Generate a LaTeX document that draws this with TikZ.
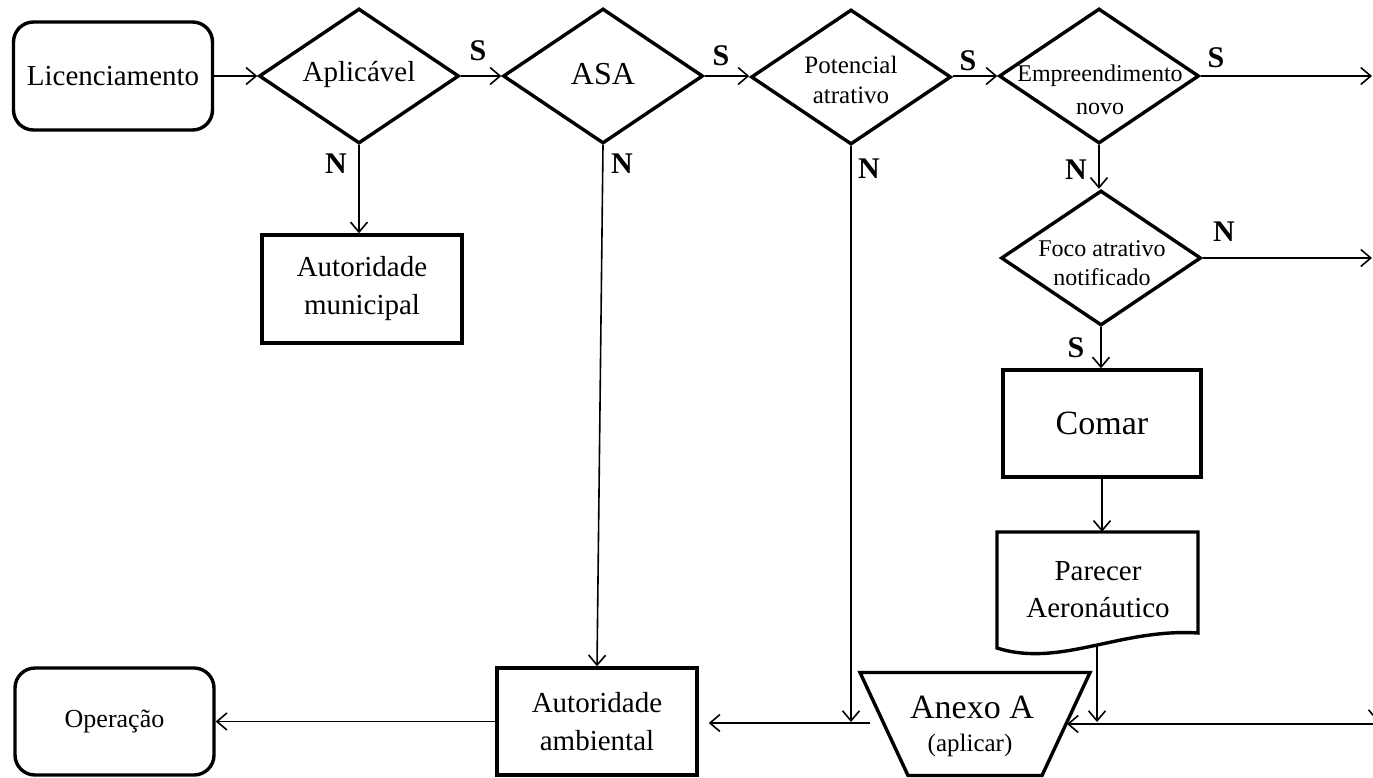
\documentclass[tikz,border=0pt]{standalone}
\usepackage{fontspec}
\setmainfont{Liberation Serif}
\usetikzlibrary{shapes.geometric,arrows.meta}
\begin{document}
\begin{tikzpicture}[x=1pt,y=-1pt,
  box/.style={draw, line width=3.4pt, inner sep=0pt, align=center},
  rbox/.style={box, rounded corners=20pt},
  dec/.style={draw, diamond, line width=3.4pt, inner sep=0pt, minimum width=200pt, minimum height=135pt},
  arr/.style={line width=1.6pt, -{Straight Barb[length=10pt,width=17pt,line width=1.6pt]}},
  lab/.style={font=\fontsize{30}{30}\selectfont\bfseries, inner sep=0pt},
  txt/.style={align=center, inner sep=0pt},
]
\useasboundingbox (0,0) rectangle (1373,777);

% top row
\node[rbox, minimum width=199pt, minimum height=108pt, font=\fontsize{29}{36}\selectfont] (lic) at (113,76) {Licenciamento};
\node[dec] (apl) at (359,76) {};
\node[txt, font=\fontsize{29}{36}\selectfont] (aplT) at (359,75) {Aplicável};
\node[dec] (asa) at (603,76) {};
\node[txt, font=\fontsize{32}{36}\selectfont] (asaT) at (603,74) {ASA};
\node[dec] (pot) at (851,77) {};
\node[txt, font=\fontsize{25}{30}\selectfont] (potT) at (851,80) {Potencial\\atrativo};
\node[dec] (emp) at (1099,76) {};
\node[txt, font=\fontsize{24}{33}\selectfont] (empT) at (1100,90) {Empreendimento\\novo};

% right column
\node[dec] (foco) at (1101,258) {};
\node[txt, font=\fontsize{24}{29}\selectfont] (focoT) at (1102,263) {Foco atrativo\\notificado};
\node[box, minimum width=198pt, minimum height=107pt, font=\fontsize{34}{36}\selectfont] (comar) at (1102,423.5) {Comar};
\node[minimum width=201pt, minimum height=101pt, inner sep=0pt] (par) at (1097.5,582.5) {};
\draw[line width=3.4pt, line join=miter] (997,648) -- (997,532) -- (1198,532) -- (1198,633)
  .. controls (1120,628) and (1060,668) .. (997,648) -- cycle;
\node[txt, font=\fontsize{29}{37}\selectfont] (parT) at (1098,590) {Parecer\\Aeronáutico};

% middle
\node[box, minimum width=200pt, minimum height=108pt, font=\fontsize{29}{38}\selectfont] (mun) at (362,289) {Autoridade\\municipal};

% bottom row
\node[rbox, minimum width=199pt, minimum height=107pt, font=\fontsize{26}{30}\selectfont] (ope) at (114.5,721.5) {Operação};
\node[box, minimum width=200pt, minimum height=107pt, font=\fontsize{29}{38}\selectfont] (amb) at (597,721.5) {Autoridade\\ambiental};
\node[minimum width=230pt, minimum height=103pt, inner sep=0pt] (anexo) at (975,724) {};
\draw[line width=3.4pt, line join=miter] (860,672.5) -- (1090,672.5) -- (1042,775.5) -- (908,775.5) -- cycle;
\node[txt, font=\fontsize{34}{36}\selectfont] (anexoT1) at (972,707) {Anexo A};
\node[txt, font=\fontsize{25}{28}\selectfont] (anexoT2) at (970,745) {(aplicar)};

% coordinates for free ends
\coordinate (r1) at (1372,76);
\coordinate (r2) at (1372,258);
\coordinate (r3) at (1373,724);
\coordinate (aR) at (1067,724);
\coordinate (pb) at (1097,646);
\coordinate (pe) at (1097,722);
\coordinate (pd) at (851,722);
\coordinate (aL) at (870,723);
\coordinate (r4a) at (1377,670);
\coordinate (r4b) at (1377,721);

% connectors
\draw[arr] (lic.east) -- (apl.west);
\draw[arr] (apl.east) -- (asa.west);
\draw[arr] (asa.east) -- (asa.east -| pot.west);
\draw[arr] (pot.east |- emp.west) -- (emp.west);
\draw[arr] (emp.east) -- (r1);
\draw[arr] (emp.south) -- (emp.south |- foco.north);
\draw[arr] (foco.east) -- (r2);
\draw[arr] (foco.south) -- (foco.south |- comar.north);
\draw[arr] (comar.south) -- (comar.south |- par.north);
\draw[arr] (pb) -- (pe);
\draw[arr] (r3) -- (aR);
\draw[arr] (r4a) -- (r4b);
\draw[arr] (pot.south) -- (pd);
\draw[arr, shorten >=10pt] (aL) -- (aL -| amb.east);
\draw[arr] (amb.west) -- (ope.east);
\draw[arr] (asa.south) -- (amb.north);
\draw[arr] (apl.south) -- (apl.south |- mun.north);

% labels
\node[lab] (s1) at (478,51) {S};
\node[lab] (s2) at (721,56) {S};
\node[lab] (s3) at (968,61) {S};
\node[lab] (s4) at (1216,58) {S};
\node[lab] (s5) at (1076,348) {S};
\node[lab] (n1) at (336,164) {N};
\node[lab] (n2) at (622,164) {N};
\node[lab] (n3) at (869,169) {N};
\node[lab] (n4) at (1076,170) {N};
\node[lab] (n5) at (1224,232) {N};
\end{tikzpicture}
\end{document}
